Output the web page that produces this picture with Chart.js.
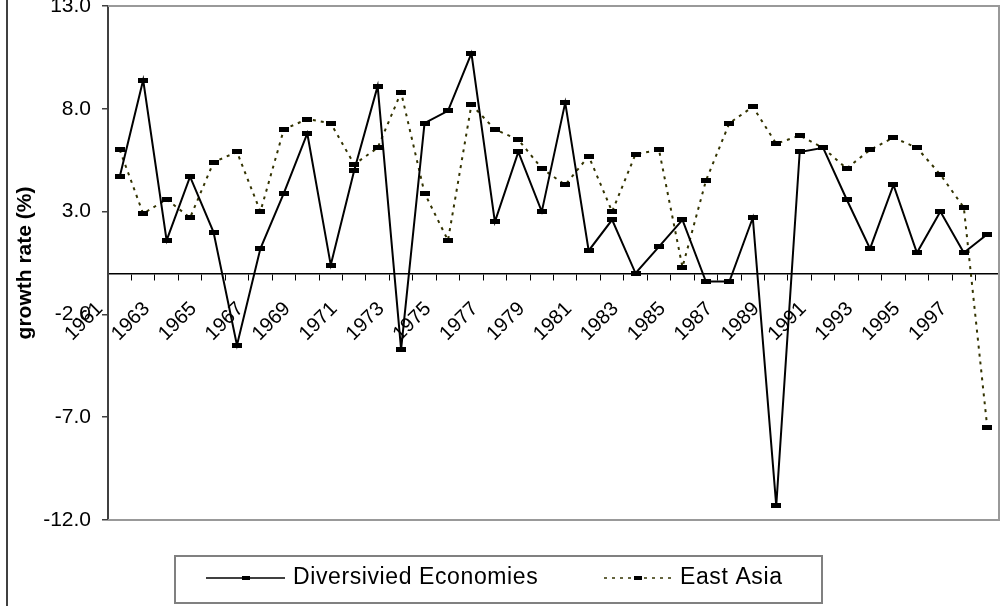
<!DOCTYPE html>
<html>
<head>
<meta charset="utf-8">
<title>Growth rate</title>
<script src="https://cdn.jsdelivr.net/npm/chart.js@4.4.1/dist/chart.umd.min.js"></script>
<style>
  html, body { margin: 0; padding: 0; background: #fff; }
</style>
</head>
<body>
<canvas id="growthChart" width="1005" height="606"></canvas>
<script>
// growth rates per year, in %
const years = ['1961', '1962', '1963', '1964', '1965', '1966', '1967', '1968', '1969', '1970',
               '1971', '1972', '1973', '1974', '1975', '1976', '1977', '1978', '1979', '1980',
               '1981', '1982', '1983', '1984', '1985', '1986', '1987', '1988', '1989', '1990',
               '1991', '1992', '1993', '1994', '1995', '1996', '1997', '1998'];

const diversifiedGrowth = [4.7, 9.4, 1.6, 4.7, 2.0, -3.5, 1.2, 3.9, 6.8, 0.4,
                           5.0, 9.1, -3.7, 7.3, 7.9, 10.7, 2.5, 5.9, 3.0, 8.3,
                           1.1, 2.6, 0.0, 1.3, 2.6, -0.4, -0.4, 2.7, -11.3, 5.9,
                           6.1, 3.6, 1.2, 4.3, 1.0, 3.0, 1.0, 1.9];

const eastAsiaGrowth = [6.0, 2.9, 3.6, 2.7, 5.4, 5.9, 3.0, 7.0, 7.5, 7.3,
                        5.3, 6.1, 8.8, 3.9, 1.6, 8.2, 7.0, 6.5, 5.1, 4.3,
                        5.7, 3.0, 5.8, 6.0, 0.3, 4.5, 7.3, 8.1, 6.3, 6.7,
                        6.1, 5.1, 6.0, 6.6, 6.1, 4.8, 3.2, -7.5];

const yTickValues = [-12, -7, -2, 3, 8, 13];

const FONT = '"Liberation Sans", Arial, sans-serif';

// small black block used as point marker
const makeMarker = (w, h) => {
    const c = document.createElement('canvas');
    c.width = w;
    c.height = h;
    const g = c.getContext('2d');
    g.fillStyle = '#000';
    g.fillRect(0, 0, w, h);
    return c;
};
const pointMarker = makeMarker(10, 5);
const legendMarker = makeMarker(8, 4);

// plot area frame + outer left border
const plotFrame = {
    id: 'plotFrame',
    beforeDatasetsDraw(chart) {
        const { ctx, chartArea: a } = chart;
        ctx.save();
        ctx.strokeStyle = '#999';
        ctx.lineWidth = 2;
        ctx.beginPath();
        ctx.moveTo(a.left, a.top);
        ctx.lineTo(a.right, a.top);
        ctx.lineTo(a.right, a.bottom);
        ctx.lineTo(a.left, a.bottom);
        ctx.stroke();

        ctx.strokeStyle = '#404040';
        ctx.beginPath();
        ctx.moveTo(7, 0);
        ctx.lineTo(7, chart.height);
        ctx.stroke();
        ctx.restore();
    }
};

// boxed legend under the plot
const legendBox = {
    id: 'legendBox',
    afterDraw(chart) {
        const ctx = chart.ctx;
        const ds = chart.data.datasets;
        const y = 578;
        const items = [
            { set: ds[0], x0: 206, x1: 285, tx: 293 },
            { set: ds[1], x0: 604, x1: 672, tx: 680 }
        ];
        ctx.save();
        ctx.strokeStyle = '#808080';
        ctx.lineWidth = 2;
        ctx.strokeRect(175, 556, 647, 47);

        items.forEach(it => {
            ctx.strokeStyle = it.set.borderColor;
            ctx.lineWidth = 1.5;
            ctx.setLineDash(it.set.borderDash || []);
            ctx.beginPath();
            ctx.moveTo(it.x0, y);
            ctx.lineTo(it.x1, y);
            ctx.stroke();
            ctx.setLineDash([]);
            ctx.drawImage(legendMarker, Math.round((it.x0 + it.x1) / 2 - 4), y - 2);

            ctx.fillStyle = '#000';
            ctx.font = '23px ' + FONT;
            ctx.letterSpacing = '0.6px';
            ctx.textBaseline = 'middle';
            ctx.fillText(it.set.label, it.tx, y);
        });
        ctx.restore();
    }
};

new Chart(document.getElementById('growthChart'), {
    type: 'line',
    data: {
        labels: years,
        datasets: [{
            label: 'Diversivied Economies',
            data: diversifiedGrowth,
            borderColor: '#000',
            borderWidth: 2,
            pointStyle: pointMarker,
            tension: 0
        }, {
            label: 'East Asia',
            data: eastAsiaGrowth,
            borderColor: '#333300',
            borderWidth: 2,
            borderDash: [3, 5],
            pointStyle: pointMarker,
            tension: 0
        }]
    },
    options: {
        responsive: false,
        animation: false,
        layout: { padding: { left: 8, right: 5, top: 4, bottom: 86 } },
        plugins: { legend: { display: false }, tooltip: { enabled: false } },
        scales: {
            x: {
                position: { y: 0 },
                offset: true,
                grid: { offset: true, drawOnChartArea: false, tickLength: 6, color: '#000', lineWidth: 1 },
                border: { display: true, color: '#000', width: 1.5 },
                ticks: {
                    autoSkip: false,
                    minRotation: 45,
                    maxRotation: 45,
                    padding: 18,
                    labelOffset: -20,
                    color: '#000',
                    font: { family: FONT, size: 20 },
                    callback: (v, i) => (i % 2 === 0 ? years[i] : '')
                },
                afterFit: s => { s.paddingLeft = 0; s.paddingRight = 0; }
            },
            y: {
                min: -12,
                max: 13,
                afterBuildTicks: s => { s.ticks = yTickValues.map(v => ({ value: v })); },
                afterFit: s => { s.width = 100; s.paddingTop = 0; s.paddingBottom = 0; },
                grid: { drawOnChartArea: false, tickLength: 6, color: '#404040', lineWidth: 1.5 },
                border: { color: '#404040', width: 2 },
                ticks: {
                    padding: 11,
                    color: '#000',
                    font: { family: FONT, size: 21 },
                    callback: v => v.toFixed(1)
                },
                title: {
                    display: true,
                    text: 'growth rate (%)',
                    color: '#000',
                    font: { family: FONT, size: 21, weight: 'bold' },
                    padding: { top: 5, bottom: 0 }
                }
            }
        }
    },
    plugins: [plotFrame, legendBox]
});
</script>
</body>
</html>
